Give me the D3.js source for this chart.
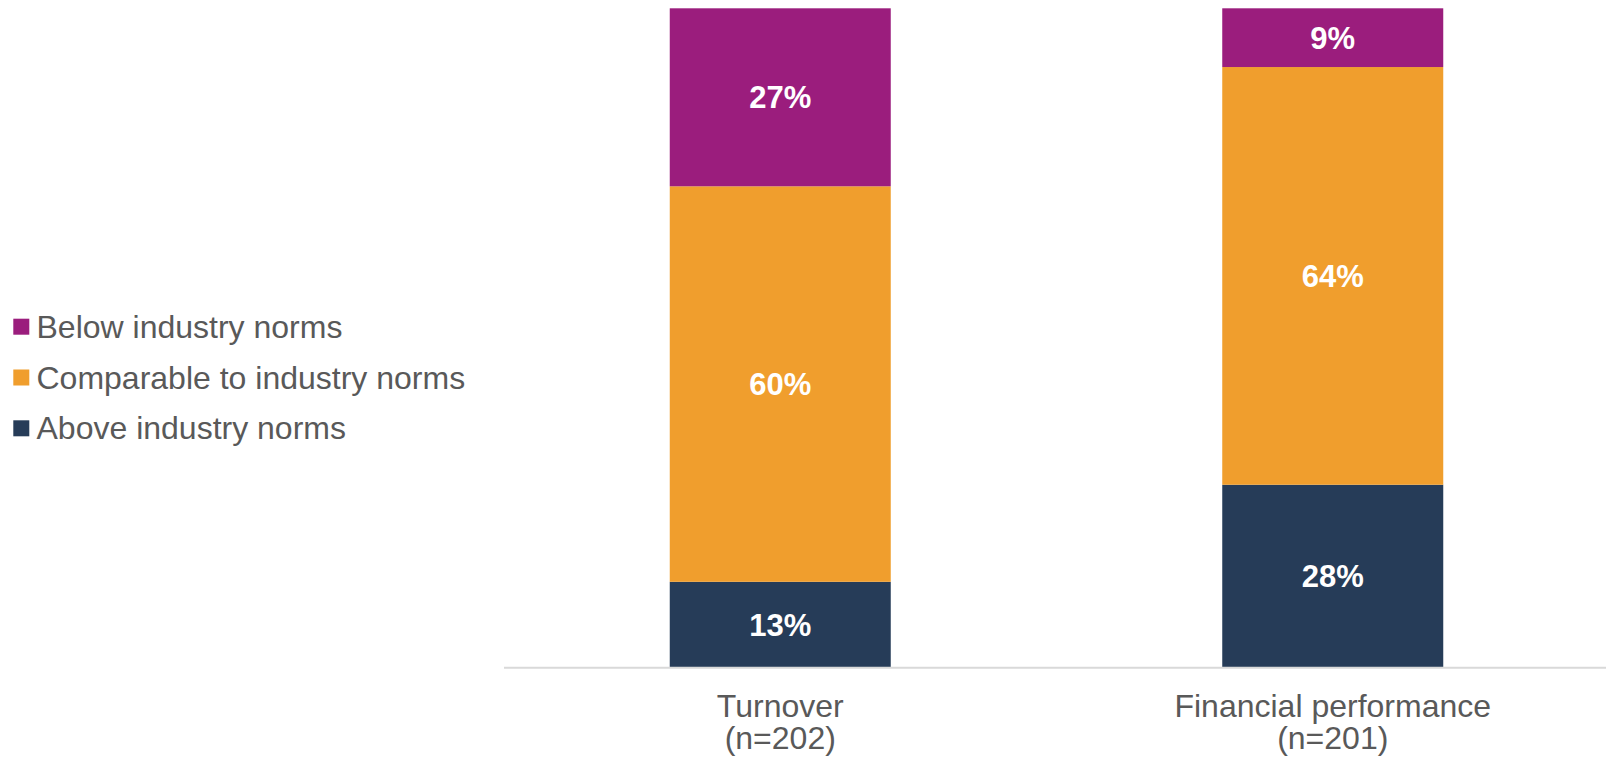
<!DOCTYPE html>
<html>
<head>
<meta charset="utf-8">
<script src="https://cdn.jsdelivr.net/npm/d3@7"></script>
<style>
  html, body { margin: 0; padding: 0; background: #ffffff; }
  svg { display: block; }
</style>
</head>
<body>
<svg id="chart" width="1606" height="758"></svg>
<script>
// Categories (two lines each) and series values in percent
const categories = ["Turnover", "Financial performance"];
const categorySamples = ["(n=202)", "(n=201)"];
const seriesNames = ["Above industry norms", "Comparable to industry norms", "Below industry norms"];
const aboveValues = [13, 28];
const comparableValues = [60, 64];
const belowValues = [27, 9];
const seriesColors = ["#263C58", "#F09E2D", "#9B1D7D"];
const legendOrder = ["Below industry norms", "Comparable to industry norms", "Above industry norms"];

const rows = categories.map((c, i) => ({
  category: c,
  "Above industry norms": aboveValues[i],
  "Comparable to industry norms": comparableValues[i],
  "Below industry norms": belowValues[i]
}));

const svg = d3.select("#chart");
const textColor = "#595959";
const font = "'Liberation Sans', Arial, sans-serif";

// 100% stacked layout
const stack = d3.stack().keys(seriesNames).offset(d3.stackOffsetExpand);
const layers = stack(rows);

const x = d3.scaleBand()
  .domain(categories)
  .range([504, 1609])
  .paddingInner(0.6)
  .paddingOuter(0.3);

const y = d3.scaleLinear().domain([0, 1]).range([667.5, 8.3]);

const color = d3.scaleOrdinal().domain(seriesNames).range(seriesColors);

const layerG = svg.append("g").selectAll("g")
  .data(layers)
  .join("g")
  .attr("fill", d => color(d.key));

layerG.selectAll("rect")
  .data(d => d.map(p => Object.assign(p, { key: d.key })))
  .join("rect")
  .attr("x", d => x(d.data.category))
  .attr("width", x.bandwidth())
  .attr("y", d => y(d[1]))
  .attr("height", d => y(d[0]) - y(d[1]));

// Value labels centred in each segment
layerG.selectAll("text")
  .data(d => d)
  .join("text")
  .attr("x", d => x(d.data.category) + x.bandwidth() / 2)
  .attr("y", d => (y(d[0]) + y(d[1])) / 2)
  .attr("dy", "0.36em")
  .attr("text-anchor", "middle")
  .attr("fill", "#ffffff")
  .attr("font-family", font)
  .attr("font-weight", "bold")
  .attr("font-size", 31)
  .text(d => d.data[d.key] + "%");

// Baseline
svg.append("line")
  .attr("x1", 504).attr("x2", 1606)
  .attr("y1", 667.7).attr("y2", 667.7)
  .attr("stroke", "#D9D9D9")
  .attr("stroke-width", 2);

// Category labels
const catG = svg.append("g")
  .attr("font-family", font)
  .attr("font-size", 32)
  .attr("fill", textColor)
  .attr("text-anchor", "middle");

categories.forEach((c, i) => {
  const cx = x(c) + x.bandwidth() / 2;
  catG.append("text").attr("x", cx).attr("y", 716.5).text(c);
  catG.append("text").attr("x", cx).attr("y", 749).text(categorySamples[i]);
});

// Legend
const legend = svg.append("g")
  .attr("font-family", font)
  .attr("font-size", 32)
  .attr("fill", textColor);

legendOrder.forEach((name, i) => {
  const cy = 326.7 + i * 50.8;
  legend.append("rect")
    .attr("x", 13.3).attr("y", cy - 8)
    .attr("width", 16).attr("height", 16)
    .attr("fill", color(name));
  legend.append("text")
    .attr("x", 36.5)
    .attr("y", cy + 11)
    .text(name);
});
</script>
</body>
</html>
